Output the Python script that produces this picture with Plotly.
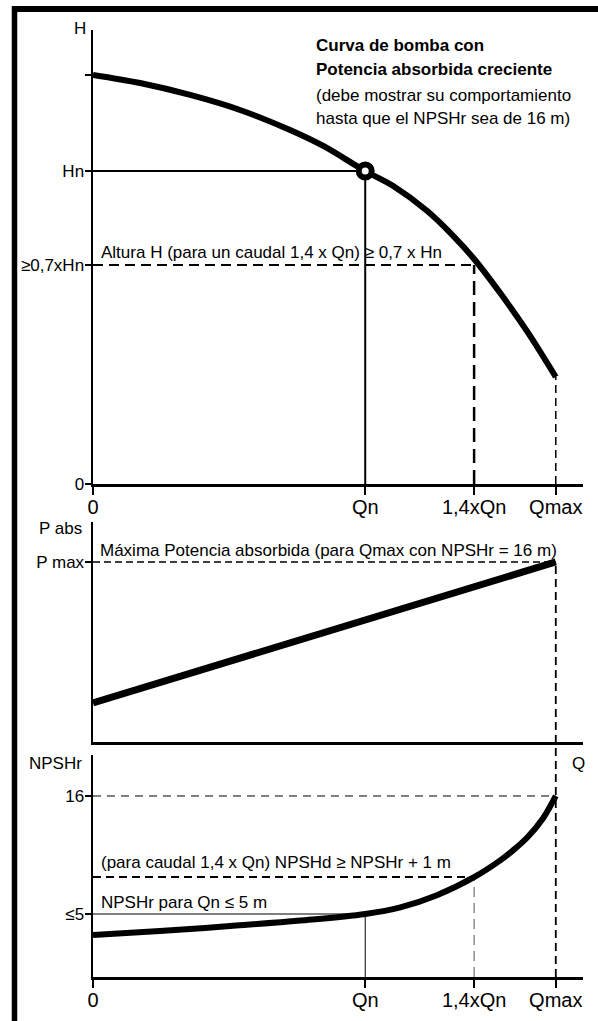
import plotly.graph_objects as go

# ---------------- data ----------------
Q_TICKS = [0, 1.0, 1.4, 1.7]
Q_LABELS = ["0", "Qn", "1,4xQn", "Qmax"]
QN, Q14, QMAX = 1.0, 1.4, 1.7

# Head curve H(Q)  (Hn = 1)
Q_H = [0, 0.173, 0.357, 0.54, 0.724, 0.846, 1.0, 1.103, 1.228, 1.324, 1.40, 1.496, 1.596, 1.70]
H = [1.307, 1.281, 1.243, 1.195, 1.131, 1.080, 1.0, 0.952, 0.872, 0.792, 0.719, 0.610, 0.486, 0.342]
H_TICKS = [0, 0.7, 1.0, 1.307]
H_LABELS = ["0", "≥0,7xHn", "Hn", ""]

# Absorbed power P(Q)  (Pmax = 1)
Q_P = [0, 1.0, 1.7]
P = [0.217, 0.678, 1.0]
P_TICKS = [1.0]
P_LABELS = ["P max"]

# NPSHr(Q)
Q_N = [0, 0.246, 0.504, 0.761, 1.0, 1.129, 1.261, 1.40, 1.496, 1.544, 1.596, 1.654, 1.70]
NPSH = [3.04, 3.41, 3.88, 4.39, 5.0, 5.62, 6.73, 8.44, 10.0, 10.95, 12.15, 13.95, 16.0]
N_TICKS = [5, 16]
N_LABELS = ["≤5", "16"]
NPSH_14 = 8.44

# ---------------- layout helpers ----------------
W, HGT = 598, 1021
FONT = "Liberation Sans, Arial, sans-serif"


def px_x(p):
    return p / W


def px_y(p):
    return 1 - p / HGT


XDOM = [px_x(93), px_x(583)]
XRANGE = [0, 1.8]
DOM1 = [px_y(484), px_y(30)]
DOM2 = [px_y(742), px_y(522)]
DOM3 = [px_y(977), px_y(755)]
R1 = [0, 1.4505]
R2 = [0, 1.222]
R3 = [-0.873, 19.82]

fig = go.Figure()


def line(x, y, ax, width=1.5, dash="solid", color="black"):
    fig.add_trace(go.Scatter(x=x, y=y, xaxis=ax[0], yaxis=ax[1], mode="lines",
                             line=dict(color=color, width=width, dash=dash),
                             hoverinfo="skip", showlegend=False))


A1, A2, A3 = ("x", "y"), ("x2", "y2"), ("x3", "y3")

# --- top panel reference lines
line([0, QN], [1, 1], A1, 2)
line([QN, QN], [0, 1], A1, 2)
line([0, Q14], [0.7, 0.7], A1, 2, "10px,6px")
line([Q14, Q14], [0, 0.7], A1, 2.5, "14px,7px")
line([QMAX, QMAX], [0, H[-1]], A1, 1.5, "8px,5px")
# head curve
fig.add_trace(go.Scatter(x=Q_H, y=H, xaxis="x", yaxis="y", mode="lines",
                         line=dict(color="black", width=6, shape="spline", smoothing=1.0),
                         hoverinfo="skip", showlegend=False))
fig.add_trace(go.Scatter(x=[QN], y=[1], xaxis="x", yaxis="y", mode="markers",
                         marker=dict(symbol="circle", size=13, color="white",
                                     line=dict(color="black", width=6)),
                         hoverinfo="skip", showlegend=False))

# --- middle panel
line([0, QMAX], [1, 1], A2, 1.5, "7px,4px")
fig.add_trace(go.Scatter(x=Q_P, y=P, xaxis="x2", yaxis="y2", mode="lines",
                         line=dict(color="black", width=7),
                         hoverinfo="skip", showlegend=False))

# --- bottom panel
line([0, QMAX], [16, 16], A3, 1, "8px,6px")
line([0, Q14], [NPSH_14, NPSH_14], A3, 2, "8px,5px")
line([Q14, Q14], [R3[0], NPSH_14], A3, 1, "10px,6px", "#555555")
line([QN, QN], [R3[0], 5], A3, 1)
line([0, QN], [5, 5], A3, 1.2)
fig.add_trace(go.Scatter(x=Q_N, y=NPSH, xaxis="x3", yaxis="y3", mode="lines",
                         line=dict(color="black", width=6, shape="spline", smoothing=1.0),
                         hoverinfo="skip", showlegend=False))

# long Qmax vertical crossing middle and bottom panels
y_pmax_paper = DOM2[0] + (P[-1] - R2[0]) / (R2[1] - R2[0]) * (DOM2[1] - DOM2[0])
fig.add_shape(type="line", xref="x", yref="paper", x0=QMAX, x1=QMAX,
              y0=DOM3[0], y1=y_pmax_paper, layer="below",
              line=dict(color="black", width=1.8, dash="8px,5px"))

# frame (thick border left and top)
fig.add_shape(type="line", xref="paper", yref="paper", x0=px_x(14.5), x1=px_x(14.5),
              y0=0, y1=px_y(6), line=dict(color="black", width=5.5))
fig.add_shape(type="line", xref="paper", yref="paper", x0=px_x(12), x1=1,
              y0=px_y(9), y1=px_y(9), line=dict(color="black", width=6))

# ---------------- axes ----------------
axis_common = dict(showline=True, linecolor="black", linewidth=2.5, showgrid=False,
                   zeroline=False, ticks="outside", tickcolor="black", tickwidth=1.5,
                   fixedrange=True, automargin=False)

xa = dict(axis_common, domain=XDOM, range=XRANGE, tickmode="array", tickvals=Q_TICKS,
          ticktext=Q_LABELS, ticklen=8, ticklabelstandoff=-5,
          tickfont=dict(family=FONT, size=20, color="black"))
ya_font = dict(family=FONT, size=17, color="black")
fig.update_layout(
    xaxis=dict(xa, anchor="y"),
    xaxis2=dict(xa, anchor="y2", matches="x", showticklabels=False, ticks=""),
    xaxis3=dict(xa, anchor="y3", matches="x"),
    yaxis=dict(axis_common, domain=DOM1, range=R1, anchor="x", tickmode="array",
               tickvals=H_TICKS, ticktext=H_LABELS, ticklen=6, ticklabelstandoff=-3,
               tickfont=ya_font),
    yaxis2=dict(axis_common, domain=DOM2, range=R2, anchor="x2", tickmode="array",
                tickvals=P_TICKS, ticktext=P_LABELS, ticklen=6, ticklabelstandoff=-3,
                tickfont=ya_font),
    yaxis3=dict(axis_common, domain=DOM3, range=R3, anchor="x3", tickmode="array",
                tickvals=N_TICKS, ticktext=N_LABELS, ticklen=6, ticklabelstandoff=-3,
                tickfont=ya_font),
)

# ---------------- texts ----------------
def note(text, x, y, xref="paper", yref="paper", xanchor="left", yanchor="middle", size=17):
    fig.add_annotation(text=text, x=x, y=y, xref=xref, yref=yref, xanchor=xanchor,
                       yanchor=yanchor, showarrow=False, borderpad=0,
                       font=dict(family=FONT, size=size, color="black"))


note("H", px_x(80), px_y(29), xanchor="center")
note("P abs", px_x(83), px_y(528), xanchor="right")
note("NPSHr", px_x(83), px_y(763), xanchor="right")
note("Q", px_x(578), px_y(763), xanchor="center")

note("<b>Curva de bomba con</b>", px_x(315), px_y(45))
note("<b>Potencia absorbida creciente</b>", px_x(315), px_y(70))
note("(debe mostrar su comportamiento", px_x(315), px_y(95))
note("hasta que el NPSHr sea de 16 m)", px_x(315), px_y(118))

note("Altura H (para un caudal 1,4 x Qn) ≥ 0,7 x Hn", px_x(100), px_y(252))
note("Máxima Potencia absorbida (para Qmax con NPSHr = 16 m)", px_x(99), px_y(550))
note("(para caudal 1,4 x Qn) NPSHd ≥ NPSHr + 1 m", px_x(100), px_y(862))
note("NPSHr para Qn ≤ 5 m", px_x(100), px_y(902))

fig.update_layout(width=W, height=HGT, autosize=False,
                  margin=dict(l=0, r=0, t=0, b=0, autoexpand=False),
                  paper_bgcolor="white", plot_bgcolor="white",
                  font=dict(family=FONT, color="black"), showlegend=False)

fig.write_html("out.html", config={"displayModeBar": False, "staticPlot": True},
               post_script="document.body.style.margin='0';document.body.style.overflow='hidden';")
